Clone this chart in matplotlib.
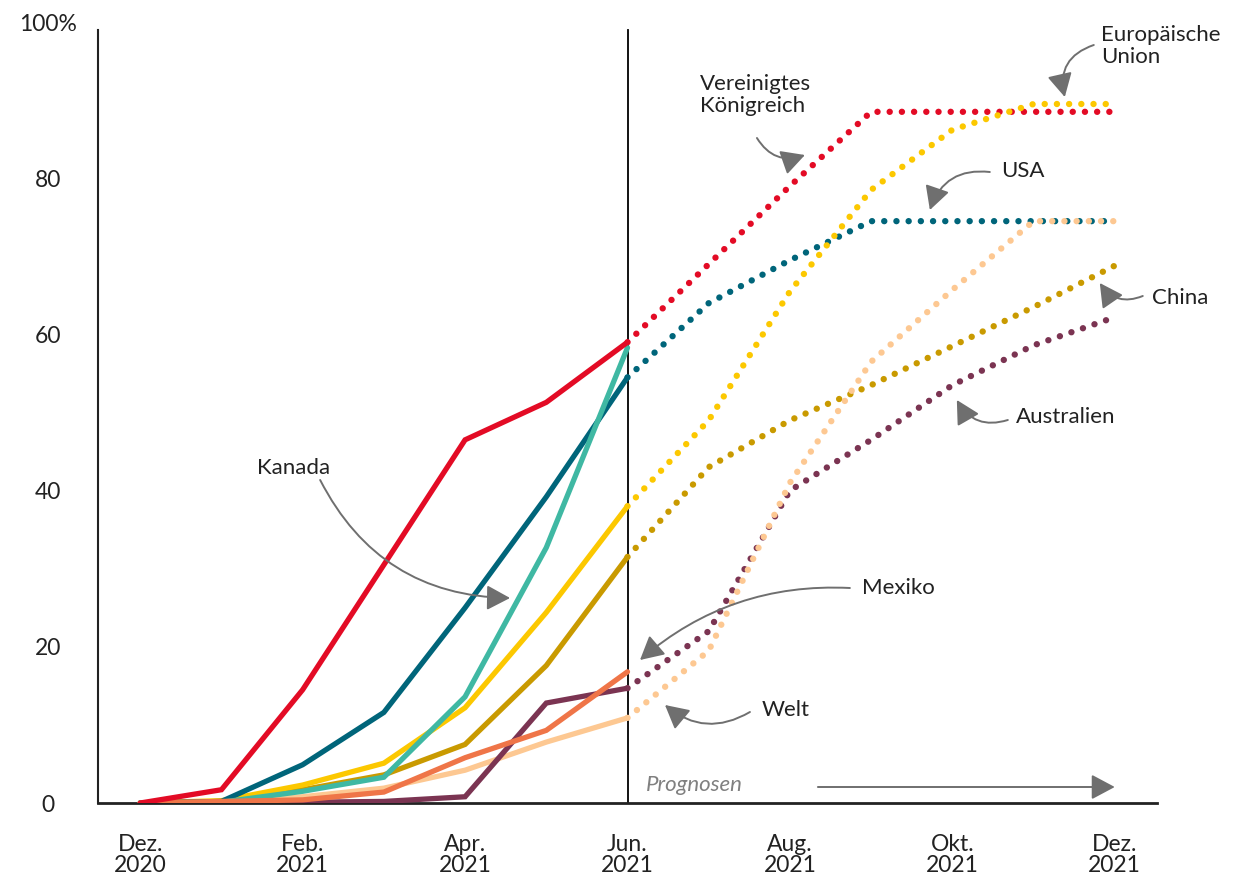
import matplotlib
matplotlib.use("Agg")
import matplotlib.pyplot as plt

plt.rcParams['font.family'] = ['Lato', 'DejaVu Sans']

# Monate ab Dez. 2020 (0) bis Dez. 2021 (12)
monate_ist = [0, 1, 2, 3, 4, 5, 6]
monate_prog = [6, 7, 8, 9, 10, 11, 12]

# Ist-Werte (durchgezogen), Anteil geimpfte Bevoelkerung in %
uk_ist = [0, 1.7, 14.5, 30.5, 46.5, 51.3, 59.0]
kanada_ist = [0, 0.1, 1.5, 3.3, 13.6, 32.7, 58.3]
usa_ist = [0, 0.2, 4.9, 11.6, 25.0, 39.2, 54.5]
eu_ist = [0, 0.3, 2.3, 5.1, 12.2, 24.4, 38.0]
china_ist = [0, 0.1, 1.7, 3.6, 7.5, 17.6, 31.5]
australien_ist = [0, 0, 0.1, 0.2, 0.8, 12.8, 14.7]
mexiko_ist = [0, 0.2, 0.4, 1.4, 5.8, 9.3, 16.8]
welt_ist = [0, 0.1, 0.8, 1.9, 4.2, 7.8, 10.9]

# Prognosen (gepunktet)
uk_prog = [59.0, 69.0, 79.0, 88.5, 88.5, 88.5, 88.5]
usa_prog = [54.5, 64.0, 69.5, 74.5, 74.5, 74.5, 74.5]
eu_prog = [38.0, 49.0, 65.5, 78.5, 86.2, 89.5, 89.5]
china_prog = [31.5, 43.0, 49.0, 53.5, 58.5, 63.5, 68.8]
australien_prog = [14.7, 22.0, 40.0, 46.5, 53.5, 58.6, 62.2]
welt_prog = [10.9, 19.5, 41.0, 56.5, 65.7, 74.5, 74.5]

tick_pos = [0, 2, 4, 6, 8, 10, 12]
tick_labels = ['Dez.\n2020', 'Feb.\n2021', 'Apr.\n2021', 'Jun.\n2021',
               'Aug.\n2021', 'Okt.\n2021', 'Dez.\n2021']

farben = {
    'uk': '#e30b25', 'kanada': '#3fb8a3', 'usa': '#00657a', 'eu': '#fcc800',
    'china': '#c99a00', 'australien': '#7b3452', 'mexiko': '#ef7548',
    'welt': '#fdc892',
}

fig = plt.figure(figsize=(12.45, 8.82), dpi=100)
ax = fig.add_axes([98 / 1245, 1 - 803 / 882, (1157 - 98) / 1245, (803 - 22) / 882])

lw = 3.8
punkt_lw = 4.6
punkt = (0, (0.01, 1.9))

def gepunktet(y, farbe, z):
    ax.plot(monate_prog, y, color=farbe, lw=punkt_lw, linestyle=punkt,
            dash_capstyle='round', zorder=z)

gepunktet(uk_prog, farben['uk'], 2)
gepunktet(usa_prog, farben['usa'], 2)
gepunktet(china_prog, farben['china'], 2)
gepunktet(australien_prog, farben['australien'], 2)
gepunktet(welt_prog, farben['welt'], 2.1)
gepunktet(eu_prog, farben['eu'], 2.2)

for y, k in [(welt_ist, 'welt'), (australien_ist, 'australien'), (china_ist, 'china'),
             (eu_ist, 'eu'), (usa_ist, 'usa'), (kanada_ist, 'kanada'),
             (mexiko_ist, 'mexiko'), (uk_ist, 'uk')]:
    ax.plot(monate_ist, y, color=farben[k], lw=lw, solid_capstyle='round',
            solid_joinstyle='miter', zorder=3)

ax.set_xlim(-0.52, 12.52)
ax.set_ylim(0, 100)
ax.axvline(6, ymin=0, ymax=0.99, color='black', lw=1.3, zorder=1)

for s in ['top', 'right']:
    ax.spines[s].set_visible(False)
ax.spines['left'].set_bounds(0, 99)
ax.spines['left'].set_linewidth(1.5)
ax.spines['left'].set_color('#222222')
ax.spines['bottom'].set_linewidth(2)
ax.spines['bottom'].set_color('#222222')

ax.set_yticks([0, 20, 40, 60, 80, 100])
ax.set_yticklabels(['0', '20', '40', '60', '80', '100%'])
ax.set_xticks(tick_pos)
ax.set_xticklabels(tick_labels, linespacing=1.0)
ax.tick_params(axis='y', length=0, pad=36, labelsize=16.5, labelcolor='#222222')
for t in ax.get_yticklabels():
    t.set_horizontalalignment('center')
ax.tick_params(axis='x', length=0, pad=22, labelsize=16.5, labelcolor='#222222')


def px(x, y):
    return ((x - 140) / 81.25, (803 - y) / 7.81)

grau = '#6f6f6f'
pfeil = dict(arrowstyle='-|>,head_length=0.6,head_width=0.32', color=grau,
             lw=1.4, mutation_scale=24, shrinkA=0, shrinkB=0)

beschriftungen = [
    ('Vereinigtes\nKönigreich', (700, 95), (757, 138), (805, 155), 0.4),
    ('Europäische\nUnion', (1101, 46), (1094, 45), (1065, 97), 0.45),
    ('USA', (1001, 171), (990, 172), (930, 210), 0.4),
    ('China', (1152, 298), (1143, 296), (1100, 283), -0.4),
    ('Australien', (1016, 417), (1008, 420), (957, 400), -0.4),
    ('Mexiko', (862, 588), (850, 588), (640, 660), 0.2),
    ('Welt', (762, 710), (750, 712), (665, 705), -0.35),
    ('Kanada', (257, 468), (320, 480), (510, 598), 0.3),
]
for text, tpos, start, ziel, rad in beschriftungen:
    ax.text(*px(*tpos), text, fontsize=16, color='#222222', ha='left', va='center',
            linespacing=1.1)
    ax.annotate('', xy=px(*ziel), xytext=px(*start),
                arrowprops=dict(pfeil, connectionstyle=f'arc3,rad={rad}'))

ax.text(*px(646, 785), 'Prognosen', fontsize=16, style='italic', color='#808080',
        ha='left', va='center')
ax.annotate('', xy=px(1115, 787), xytext=px(818, 787), arrowprops=dict(pfeil))

fig.savefig('out.png', dpi=100)
